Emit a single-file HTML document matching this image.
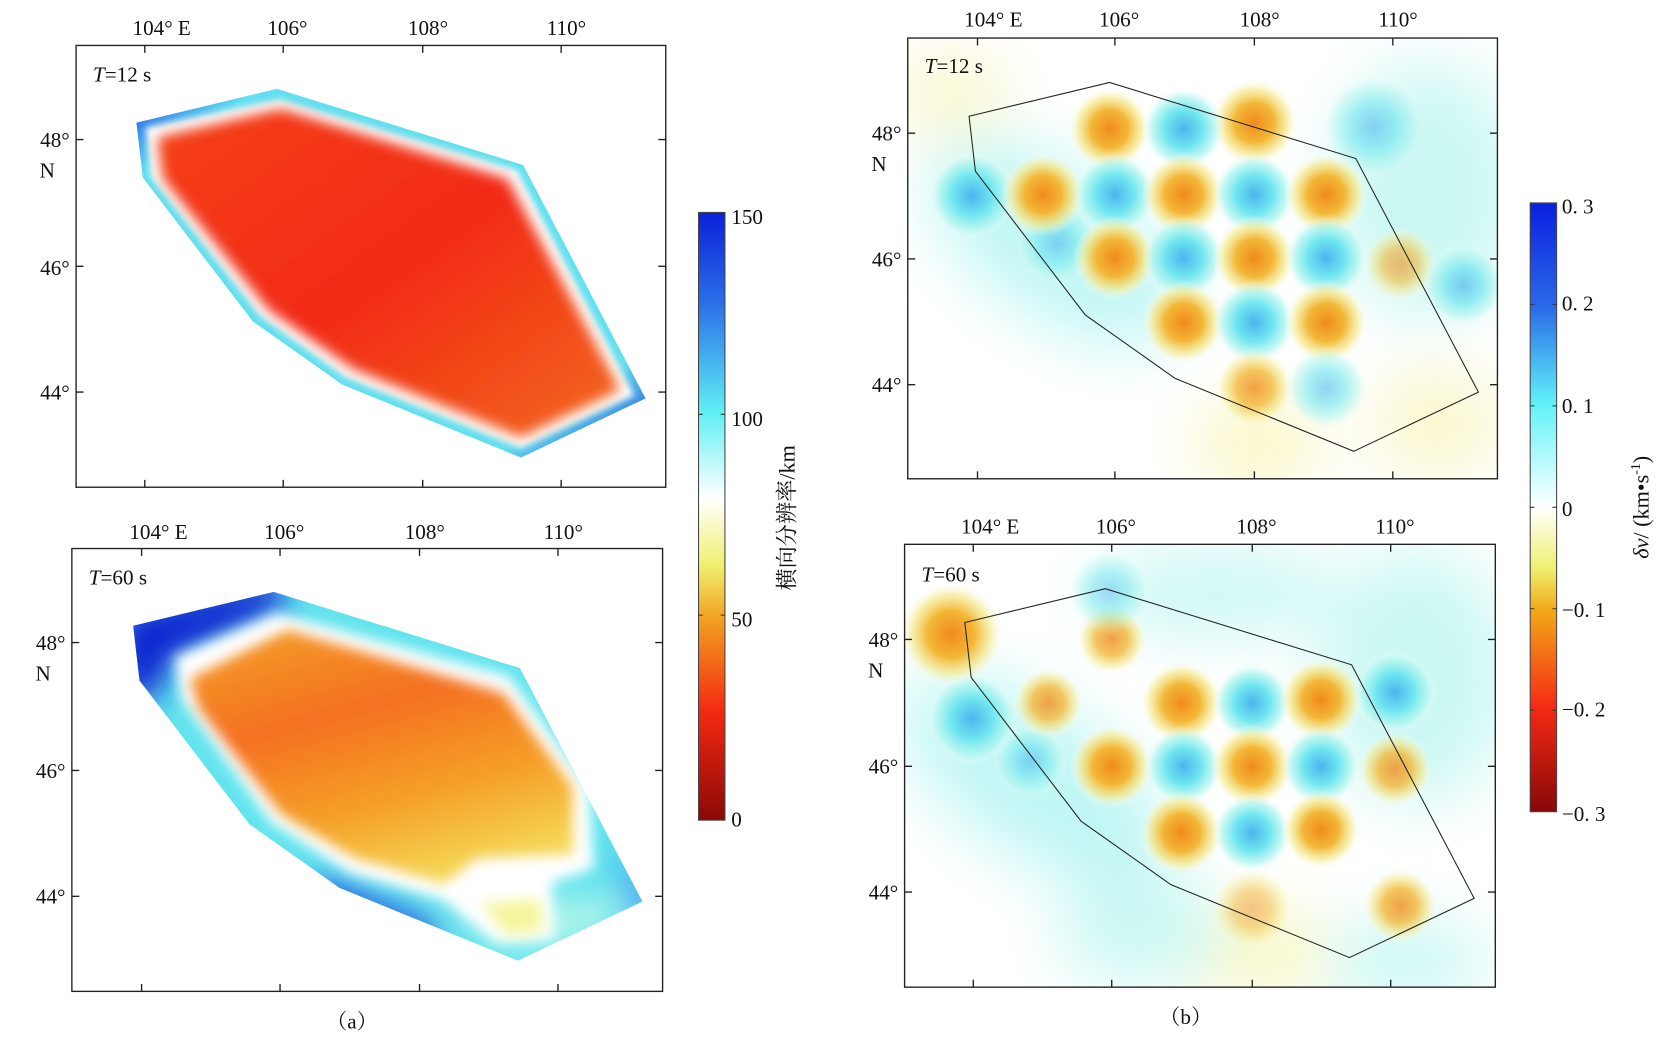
<!DOCTYPE html>
<html><head><meta charset="utf-8"><style>
html,body{margin:0;padding:0;background:#fff;overflow:hidden}
svg{display:block}
text{font-family:"Liberation Serif","Noto Serif CJK SC",serif;fill:#111}
</style></head><body>
<svg width="1657" height="1040" viewBox="0 0 1568 984" preserveAspectRatio="none" xmlns="http://www.w3.org/2000/svg">
<defs>
<polygon id="P" points="917,110 923,162 1027,298 1112,358 1281,427 1399,371 1283,150 1050,78"/>
<filter id="b4" x="-20%" y="-20%" width="140%" height="140%"><feGaussianBlur stdDeviation="3"/></filter>
<filter id="b7" x="-20%" y="-20%" width="140%" height="140%"><feGaussianBlur stdDeviation="6"/></filter>
<filter id="b15" x="-50%" y="-50%" width="200%" height="200%"><feGaussianBlur stdDeviation="15"/></filter>
<filter id="bb" x="-50%" y="-50%" width="200%" height="200%"><feGaussianBlur stdDeviation="30"/></filter>
<linearGradient id="edgeA" x1="0" y1="0" x2="1" y2="1">
<stop offset="0" stop-color="#1a40e0"/><stop offset="0.12" stop-color="#60e0f0"/><stop offset="0.85" stop-color="#60e0f0"/><stop offset="1" stop-color="#1a30d0"/></linearGradient>
<linearGradient id="redA" x1="0" y1="0" x2="1" y2="1">
<stop offset="0" stop-color="#f4401a"/><stop offset="0.5" stop-color="#f22a12"/><stop offset="1" stop-color="#f26a20"/></linearGradient>
<linearGradient id="orgB" x1="0.2" y1="0" x2="0.6" y2="1">
<stop offset="0" stop-color="#f49a28"/><stop offset="0.35" stop-color="#f47020"/><stop offset="0.7" stop-color="#f5a028"/><stop offset="1" stop-color="#f5d858"/></linearGradient>
<radialGradient id="O"><stop offset="0" stop-color="#f08a1c"/><stop offset="0.45" stop-color="#f3b838"/><stop offset="0.75" stop-color="#f5ea90" stop-opacity="0.7"/><stop offset="1" stop-color="#fff" stop-opacity="0"/></radialGradient>
<radialGradient id="C"><stop offset="0" stop-color="#4ab6ee"/><stop offset="0.45" stop-color="#70e6f0"/><stop offset="0.75" stop-color="#a8f4ee" stop-opacity="0.7"/><stop offset="1" stop-color="#fff" stop-opacity="0"/></radialGradient>
<linearGradient id="cbA" x1="0" y1="0" x2="0" y2="1">
<stop offset="0" stop-color="#0a20d8"/><stop offset="0.15" stop-color="#2a70e8"/><stop offset="0.33" stop-color="#60f0f4"/><stop offset="0.47" stop-color="#ffffff"/><stop offset="0.58" stop-color="#f0f070"/><stop offset="0.67" stop-color="#f2a020"/><stop offset="0.82" stop-color="#f42a10"/><stop offset="1" stop-color="#8a0808"/></linearGradient>
<linearGradient id="cbB" x1="0" y1="0" x2="0" y2="1">
<stop offset="0" stop-color="#0a20e0"/><stop offset="0.17" stop-color="#2a6ae8"/><stop offset="0.33" stop-color="#60f2f8"/><stop offset="0.5" stop-color="#ffffff"/><stop offset="0.6" stop-color="#eef070"/><stop offset="0.67" stop-color="#f2a818"/><stop offset="0.83" stop-color="#f42a14"/><stop offset="1" stop-color="#880808"/></linearGradient>
<clipPath id="cpA1"><use href="#P" transform="translate(-788,6)"/></clipPath>
<clipPath id="cpA2"><use href="#P" transform="translate(-791,482)"/></clipPath>
<clipPath id="fB1"><rect x="859" y="36" width="558" height="417"/></clipPath>
<clipPath id="fB2"><rect x="856" y="515" width="559" height="419"/></clipPath>
</defs>

<g clip-path="url(#cpA1)">
<use href="#P" transform="translate(-788,6)" fill="url(#edgeA)"/>
<polygon filter="url(#b4)" fill="#fff" points="138,121 143,168 246,299 327,357 493,424 600,374 489,161 264,94"/>
<polygon filter="url(#b7)" fill="url(#redA)" points="149,130 154,169 254,293 334,349 493,414 587,369 480,169 266,103"/>
</g>
<g clip-path="url(#cpA2)">
<use href="#P" transform="translate(-791,482)" fill="#62e4ee"/>
<g filter="url(#b15)">
<polygon fill="#0a20d0" points="110,580 265,545 270,575 160,625 150,660 110,660"/>
<polygon fill="#1a40e0" points="300,830 420,880 400,910 290,860"/>
<polygon fill="#3090f0" points="580,800 630,860 600,870"/>
<polygon fill="#b0f4ea" points="420,850 600,850 560,890 480,900"/>
</g>
<polygon filter="url(#b7)" fill="#fff" points="165,622 172,662 256,778 330,826 420,852 470,892 525,888 522,835 562,822 558,745 482,640 262,580"/>
<polygon filter="url(#b7)" fill="#f6f6a0" points="455,855 480,885 515,880 510,850"/>
<polygon filter="url(#b7)" fill="url(#orgB)" points="180,642 188,670 266,770 336,812 420,836 452,812 542,808 542,745 476,656 272,596"/>
</g>

<g clip-path="url(#fB1)">
<g filter="url(#bb)" opacity="0.55">
<ellipse cx="1000" cy="230" rx="140" ry="70" fill="#8ef0ec" transform="rotate(35 1000 230)"/>
<ellipse cx="1350" cy="180" rx="90" ry="120" fill="#a0f2ea"/>
<ellipse cx="1190" cy="420" rx="60" ry="40" fill="#f5f090"/>
<ellipse cx="1360" cy="400" rx="60" ry="50" fill="#f5f0a0"/>
<ellipse cx="900" cy="90" rx="50" ry="40" fill="#f5f0a0"/>
</g>
<g>
<circle cx="920" cy="185" r="42" fill="url(#C)"/>
<circle cx="1000" cy="230" r="40" fill="url(#C)" opacity="0.6"/>
<circle cx="1050" cy="122" r="40" fill="url(#O)"/>
<circle cx="1187" cy="116" r="42" fill="url(#O)"/>
<circle cx="1120" cy="122" r="40" fill="url(#C)"/>
<circle cx="987" cy="184" r="40" fill="url(#O)"/>
<circle cx="1055" cy="184" r="40" fill="url(#C)"/>
<circle cx="1120" cy="184" r="40" fill="url(#O)"/>
<circle cx="1187" cy="184" r="40" fill="url(#C)"/>
<circle cx="1255" cy="184" r="40" fill="url(#O)"/>
<circle cx="1055" cy="244" r="40" fill="url(#O)"/>
<circle cx="1120" cy="244" r="40" fill="url(#C)"/>
<circle cx="1187" cy="244" r="40" fill="url(#O)"/>
<circle cx="1255" cy="244" r="40" fill="url(#C)"/>
<circle cx="1325" cy="250" r="36" fill="url(#O)" opacity="0.6"/>
<circle cx="1120" cy="305" r="40" fill="url(#O)"/>
<circle cx="1187" cy="305" r="40" fill="url(#C)"/>
<circle cx="1255" cy="305" r="40" fill="url(#O)"/>
<circle cx="1187" cy="367" r="38" fill="url(#O)" opacity="0.8"/>
<circle cx="1255" cy="367" r="40" fill="url(#C)" opacity="0.6"/>
<circle cx="1385" cy="270" r="40" fill="url(#C)" opacity="0.7"/>
<circle cx="1300" cy="120" r="50" fill="url(#C)" opacity="0.6"/>
</g>
</g>
<use href="#P" fill="none" stroke="#222" stroke-width="1"/>

<g clip-path="url(#fB2)">
<g filter="url(#bb)" opacity="0.55">
<ellipse cx="980" cy="740" rx="150" ry="70" fill="#8ef0ec" transform="rotate(35 980 740)"/>
<ellipse cx="1340" cy="640" rx="90" ry="120" fill="#a0f2ea"/>
<ellipse cx="1180" cy="900" rx="80" ry="40" fill="#f5f090"/>
<ellipse cx="1150" cy="560" rx="120" ry="40" fill="#a0f2ea"/>
<ellipse cx="1080" cy="880" rx="80" ry="50" fill="#a0f2ea"/>
<ellipse cx="1330" cy="910" rx="80" ry="40" fill="#a0f2ea"/>
</g>
<g>
<circle cx="900" cy="600" r="50" fill="url(#O)"/>
<circle cx="920" cy="680" r="44" fill="url(#C)"/>
<circle cx="975" cy="720" r="36" fill="url(#C)" opacity="0.6"/>
<circle cx="1052" cy="605" r="34" fill="url(#O)" opacity="0.8"/>
<circle cx="992" cy="665" r="34" fill="url(#O)" opacity="0.8"/>
<circle cx="1118" cy="665" r="40" fill="url(#O)"/>
<circle cx="1185" cy="665" r="38" fill="url(#C)"/>
<circle cx="1250" cy="662" r="40" fill="url(#O)"/>
<circle cx="1320" cy="655" r="40" fill="url(#C)"/>
<circle cx="1052" cy="725" r="40" fill="url(#O)"/>
<circle cx="1120" cy="725" r="38" fill="url(#C)"/>
<circle cx="1185" cy="725" r="40" fill="url(#O)"/>
<circle cx="1250" cy="725" r="38" fill="url(#C)"/>
<circle cx="1320" cy="728" r="36" fill="url(#O)" opacity="0.8"/>
<circle cx="1118" cy="788" r="40" fill="url(#O)"/>
<circle cx="1185" cy="788" r="38" fill="url(#C)"/>
<circle cx="1250" cy="785" r="38" fill="url(#O)"/>
<circle cx="1325" cy="857" r="36" fill="url(#O)" opacity="0.8"/>
<circle cx="1185" cy="860" r="40" fill="url(#O)" opacity="0.5"/>
<circle cx="1050" cy="560" r="40" fill="url(#C)" opacity="0.5"/>
</g>
</g>
<use href="#P" transform="translate(-4,479)" fill="none" stroke="#222" stroke-width="1"/>

<g fill="none" stroke="#222" stroke-width="1.3">
<rect x="72" y="43" width="558" height="418"/>
<rect x="68" y="519" width="559" height="419"/>
<rect x="859" y="36" width="558" height="417"/>
<rect x="856" y="515" width="559" height="419"/>
<path d="M137,43v7M268,43v7M400,43v7M531,43v7M137,461v-7M268,461v-7M400,461v-7M531,461v-7M72,132h7M72,252h7M72,371h7M630,132h-7M630,252h-7M630,371h-7"/>
<path d="M134,519v7M265,519v7M397,519v7M528,519v7M134,938v-7M265,938v-7M397,938v-7M528,938v-7M68,608h7M68,729h7M68,848h7M627,608h-7M627,729h-7M627,848h-7"/>
<path d="M925,36v7M1055,36v7M1187,36v7M1318,36v7M925,453v-7M1055,453v-7M1187,453v-7M1318,453v-7M859,126h7M859,245h7M859,364h7M1417,126h-7M1417,245h-7M1417,364h-7"/>
<path d="M921,515v7M1052,515v7M1185,515v7M1316,515v7M921,934v-7M1052,934v-7M1185,934v-7M1316,934v-7M856,605h7M856,725h7M856,844h7M1415,605h-7M1415,725h-7M1415,844h-7"/>
</g>

<rect x="661" y="201" width="25" height="575" fill="url(#cbA)" stroke="#444" stroke-width="1"/>
<path d="M661,392h4M686,392h-4M661,582h4M686,582h-4" stroke="#333"/>
<rect x="1448" y="192" width="25" height="576" fill="url(#cbB)" stroke="#444" stroke-width="1"/>
<path d="M1448,288h4M1473,288h-4M1448,384h4M1473,384h-4M1448,480h4M1473,480h-4M1448,576h4M1473,576h-4M1448,672h4M1473,672h-4" stroke="#333"/>

<g font-size="20">
<text x="692" y="212">150</text><text x="692" y="403">100</text><text x="692" y="593">50</text><text x="692" y="782">0</text>
<text x="1478" y="202">0. 3</text><text x="1478" y="294">0. 2</text><text x="1478" y="391">0. 1</text><text x="1478" y="488">0</text>
<text x="1478" y="584">−0. 1</text><text x="1478" y="678">−0. 2</text><text x="1478" y="777">−0. 3</text>
<text transform="translate(752,490) rotate(-90)" text-anchor="middle" font-size="21">横向分辨率/km</text>
<text transform="translate(1560,480) rotate(-90)" text-anchor="middle" font-size="21"><tspan font-style="italic">δv</tspan>/ (km•s<tspan font-size="13" dy="-8">-1</tspan><tspan dy="8">)</tspan></text>

<g text-anchor="middle">
<text x="153" y="33">104° E</text><text x="272" y="33">106°</text><text x="405" y="33">108°</text><text x="536" y="33">110°</text>
<text x="150" y="510">104° E</text><text x="269" y="510">106°</text><text x="402" y="510">108°</text><text x="533" y="510">110°</text>
<text x="940" y="25">104° E</text><text x="1059" y="25">106°</text><text x="1192" y="25">108°</text><text x="1323" y="25">110°</text>
<text x="937" y="505">104° E</text><text x="1056" y="505">106°</text><text x="1189" y="505">108°</text><text x="1320" y="505">110°</text>
</g>
<g text-anchor="end">
<text x="66" y="139">48°</text><text x="52" y="168">N</text><text x="66" y="260">46°</text><text x="66" y="378">44°</text>
<text x="62" y="615">48°</text><text x="48" y="644">N</text><text x="62" y="736">46°</text><text x="62" y="855">44°</text>
<text x="853" y="133">48°</text><text x="839" y="162">N</text><text x="853" y="252">46°</text><text x="853" y="371">44°</text>
<text x="850" y="612">48°</text><text x="836" y="641">N</text><text x="850" y="732">46°</text><text x="850" y="851">44°</text>
</g>
<text x="88" y="77"><tspan font-style="italic">T</tspan>=12 s</text>
<text x="84" y="553"><tspan font-style="italic">T</tspan>=60 s</text>
<text x="875" y="69"><tspan font-style="italic">T</tspan>=12 s</text>
<text x="872" y="550"><tspan font-style="italic">T</tspan>=60 s</text>
<text x="333" y="973" text-anchor="middle">（a）</text>
<text x="1122" y="969" text-anchor="middle">（b）</text>
</g>
</svg>
</body></html>
